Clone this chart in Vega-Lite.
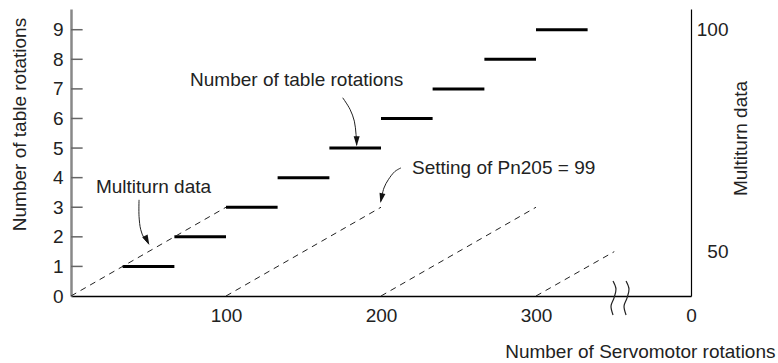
{
  "$schema": "https://vega.github.io/schema/vega-lite/v6.json",
  "width": 620,
  "height": 287,
  "autosize": {"type": "none"},
  "padding": {"left": 71, "top": 9, "right": 87, "bottom": 67},
  "background": "white",
  "config": {
    "view": {"stroke": null},
    "font": "Liberation Sans",
    "axis": {"grid": false, "labelFont": "Liberation Sans", "titleFont": "Liberation Sans", "labelFontSize": 19, "titleFontSize": 19, "labelColor": "#222", "titleColor": "#222", "titleFontWeight": "normal"}
  },
  "datasets": {
    "steps": [
      {"rot": 1, "start": 33.3, "end": 66.7},
      {"rot": 2, "start": 66.7, "end": 100},
      {"rot": 3, "start": 100, "end": 133.3},
      {"rot": 4, "start": 133.3, "end": 166.7},
      {"rot": 5, "start": 166.7, "end": 200},
      {"rot": 6, "start": 200, "end": 233.3},
      {"rot": 7, "start": 233.3, "end": 266.7},
      {"rot": 8, "start": 266.7, "end": 300},
      {"rot": 9, "start": 300, "end": 333.3}
    ],
    "dashed": [
      {"seg": 1, "motor": 0, "multi": 0},
      {"seg": 1, "motor": 100, "multi": 3},
      {"seg": 2, "motor": 100, "multi": 0},
      {"seg": 2, "motor": 200, "multi": 3},
      {"seg": 3, "motor": 200, "multi": 0},
      {"seg": 3, "motor": 300, "multi": 3},
      {"seg": 4, "motor": 300, "multi": 0},
      {"seg": 4, "motor": 350.5, "multi": 1.5}
    ],
    "arrows": [
      {"arrow": "a1", "i": 1, "x": 175.3, "y": 6.7},
      {"arrow": "a1", "i": 2, "x": 180.0, "y": 6.31},
      {"arrow": "a1", "i": 3, "x": 182.8, "y": 5.91},
      {"arrow": "a1", "i": 4, "x": 183.9, "y": 5.46},
      {"arrow": "a1", "i": 5, "x": 184.3, "y": 5.1},
      {"arrow": "a2", "i": 1, "x": 43.9, "y": 3.25},
      {"arrow": "a2", "i": 2, "x": 43.9, "y": 2.69},
      {"arrow": "a2", "i": 3, "x": 45.0, "y": 2.24},
      {"arrow": "a2", "i": 4, "x": 47.1, "y": 1.96},
      {"arrow": "a2", "i": 5, "x": 50.3, "y": 1.75},
      {"arrow": "a3", "i": 1, "x": 212.9, "y": 4.33},
      {"arrow": "a3", "i": 2, "x": 209.0, "y": 4.21},
      {"arrow": "a3", "i": 3, "x": 204.7, "y": 3.93},
      {"arrow": "a3", "i": 4, "x": 201.9, "y": 3.65},
      {"arrow": "a3", "i": 5, "x": 199.9, "y": 3.2}
    ],
    "heads": [
      {"arrow": "a1", "x": 184.3, "y": 5.06},
      {"arrow": "a2", "x": 50.5, "y": 1.73},
      {"arrow": "a3", "x": 199.6, "y": 3.14}
    ],
    "waves": [
      {"wave": 1, "i": 1, "x": 349.7, "y": 0.51},
      {"wave": 1, "i": 2, "x": 351.6, "y": 0.24},
      {"wave": 1, "i": 3, "x": 350.3, "y": -0.07},
      {"wave": 1, "i": 4, "x": 348.4, "y": -0.34},
      {"wave": 1, "i": 5, "x": 349.7, "y": -0.64},
      {"wave": 2, "i": 1, "x": 358.1, "y": 0.51},
      {"wave": 2, "i": 2, "x": 360.0, "y": 0.24},
      {"wave": 2, "i": 3, "x": 358.7, "y": -0.07},
      {"wave": 2, "i": 4, "x": 356.8, "y": -0.34},
      {"wave": 2, "i": 5, "x": 358.1, "y": -0.64}
    ],
    "notes": [
      {"text": "Number of table rotations", "x": 76.8, "y": 7.29},
      {"text": "Multiturn data", "x": 16.1, "y": 3.69},
      {"text": "Setting of Pn205 = 99", "x": 220.0, "y": 4.34}
    ]
  },
  "layer": [
    {
      "data": {"name": "steps"},
      "mark": {"type": "rule", "strokeWidth": 3, "color": "black"},
      "encoding": {
        "x": {
          "field": "start", "type": "quantitative", "title": "Number of Servomotor rotations",
          "scale": {"domain": [0, 400], "nice": false},
          "axis": {
            "values": [100, 200, 300, 400],
            "labelExpr": "datum.value == 400 ? '0' : datum.label",
            "ticks": false, "tickSize": 0, "labelPadding": 10, "labelFlush": false,
            "domainColor": "black", "domainWidth": 1.5,
            "titleAlign": "right", "titleAnchor": "end", "titleX": 704, "titleY": 55, "titleBaseline": "middle"
          }
        },
        "x2": {"field": "end"},
        "y": {
          "field": "rot", "type": "quantitative", "title": "Number of table rotations",
          "scale": {"domain": [0, 9.7], "nice": false},
          "axis": {
            "values": [0, 1, 2, 3, 4, 5, 6, 7, 8, 9], "format": "d",
            "ticks": false, "tickSize": 0,
            "domainColor": "#888", "domainWidth": 2.5, "labelPadding": 8,
            "titleAngle": 270, "titleX": -52, "titleY": 115, "titleAlign": "center", "titleBaseline": "middle"
          }
        }
      }
    },
    {
      "data": {"name": "steps"},
      "mark": {"type": "rule", "strokeWidth": 1.5, "color": "#666"},
      "encoding": {
        "x": {"datum": 0},
        "x2": {"datum": 7.5},
        "y": {"field": "rot", "type": "quantitative", "axis": null}
      }
    },
    {
      "data": {"name": "dashed"},
      "mark": {"type": "line", "strokeDash": [6, 5], "strokeWidth": 1, "color": "#222"},
      "encoding": {
        "x": {"field": "motor", "type": "quantitative", "title": "Number of Servomotor rotations"},
        "y": {
          "field": "multi", "type": "quantitative", "title": "Multiturn data",
          "axis": {
            "orient": "right", "values": [1.5, 9],
            "labelExpr": "datum.value == 9 ? '100' : '50'",
            "ticks": false, "tickSize": 0, "labelAlign": "right", "labelPadding": 37,
            "domainColor": "black", "domainWidth": 1.2,
            "titleAngle": 270, "titleX": 49, "titleY": 129, "titleAlign": "center", "titleBaseline": "middle"
          }
        },
        "detail": {"field": "seg"}
      }
    },
    {
      "data": {"name": "arrows"},
      "mark": {"type": "line", "strokeWidth": 1, "color": "#222", "interpolate": "catmull-rom"},
      "encoding": {
        "x": {"field": "x", "type": "quantitative", "title": "Number of Servomotor rotations"},
        "y": {"field": "y", "type": "quantitative", "axis": null},
        "detail": {"field": "arrow"},
        "order": {"field": "i"}
      }
    },
    {
      "data": {"name": "heads"},
      "transform": [{"filter": "datum.arrow == 'a1'"}],
      "mark": {"type": "point", "shape": "M0,0L-0.3,-1L0.3,-1Z", "size": 400, "filled": true, "color": "#111", "opacity": 1, "strokeWidth": 0, "angle": 0},
      "encoding": {
        "x": {"field": "x", "type": "quantitative", "title": "Number of Servomotor rotations"},
        "y": {"field": "y", "type": "quantitative", "axis": null}
      }
    },
    {
      "data": {"name": "heads"},
      "transform": [{"filter": "datum.arrow == 'a2'"}],
      "mark": {"type": "point", "shape": "M0,0L-0.3,-1L0.3,-1Z", "size": 400, "filled": true, "color": "#111", "opacity": 1, "strokeWidth": 0, "angle": 334},
      "encoding": {
        "x": {"field": "x", "type": "quantitative", "title": "Number of Servomotor rotations"},
        "y": {"field": "y", "type": "quantitative", "axis": null}
      }
    },
    {
      "data": {"name": "heads"},
      "transform": [{"filter": "datum.arrow == 'a3'"}],
      "mark": {"type": "point", "shape": "M0,0L-0.3,-1L0.3,-1Z", "size": 400, "filled": true, "color": "#111", "opacity": 1, "strokeWidth": 0, "angle": 12},
      "encoding": {
        "x": {"field": "x", "type": "quantitative", "title": "Number of Servomotor rotations"},
        "y": {"field": "y", "type": "quantitative", "axis": null}
      }
    },
    {
      "mark": {"type": "rule", "color": "white", "strokeWidth": 4},
      "encoding": {
        "x": {"datum": 350.6},
        "x2": {"datum": 357.9},
        "y": {"datum": 0, "axis": null}
      }
    },
    {
      "data": {"name": "waves"},
      "mark": {"type": "line", "strokeWidth": 1.2, "color": "#222", "interpolate": "catmull-rom"},
      "encoding": {
        "x": {"field": "x", "type": "quantitative", "title": "Number of Servomotor rotations"},
        "y": {"field": "y", "type": "quantitative", "axis": null},
        "detail": {"field": "wave"},
        "order": {"field": "i"}
      }
    },
    {
      "data": {"name": "notes"},
      "mark": {"type": "text", "align": "left", "baseline": "middle", "fontSize": 19, "font": "Liberation Sans", "color": "#222"},
      "encoding": {
        "x": {"field": "x", "type": "quantitative", "title": "Number of Servomotor rotations"},
        "y": {"field": "y", "type": "quantitative", "axis": null},
        "text": {"field": "text"}
      }
    }
  ],
  "resolve": {"axis": {"y": "independent"}}
}
